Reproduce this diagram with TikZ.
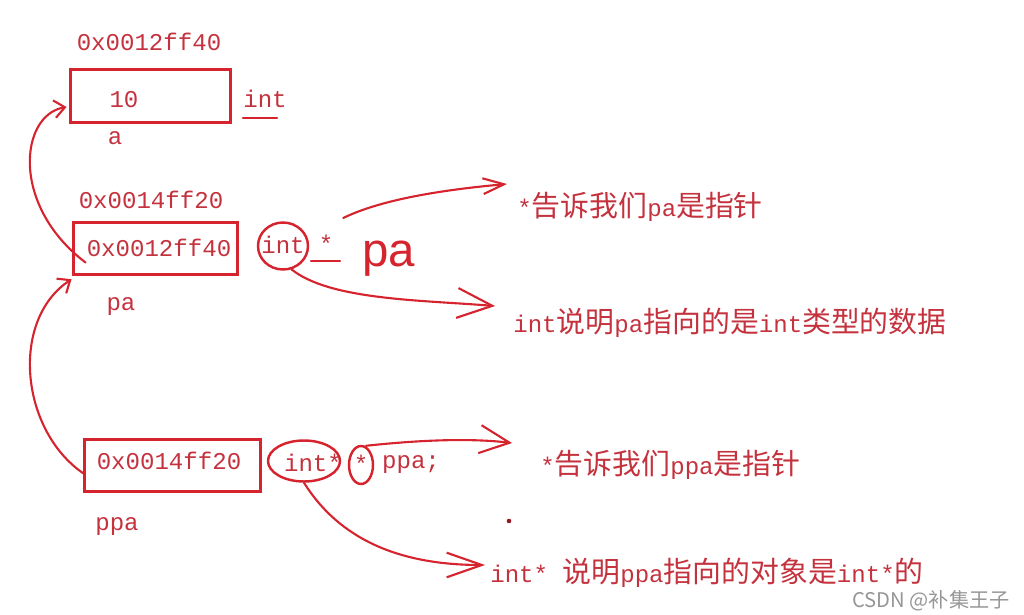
\documentclass[tikz,border=0pt]{standalone}
\usepackage{fontspec}
\usepackage{tikz}
\usetikzlibrary{calc,arrows.meta,positioning,shapes.geometric}
\setmonofont{Liberation Mono}
\newfontfamily\cjk[Scale=1.2]{Noto Sans CJK SC}
\newfontfamily\wmfont{Noto Sans CJK SC}
\newfontfamily\handfont{Liberation Sans}
\newcommand{\memfont}{\ttfamily\fontsize{13.7}{16}\selectfont}
\definecolor{inkRed}{RGB}{214,36,46}
\definecolor{textRed}{RGB}{196,50,62}
\definecolor{wmGray}{RGB}{150,150,150}
\tikzset{
  mem/.style={text=textRed, font=\memfont, inner sep=0pt},
  cell/.style={draw=inkRed, line width=1.7pt, minimum height=1.05cm, inner sep=0pt},
  pen/.style={draw=inkRed, line width=1.2pt, line cap=round},
  ring/.style={draw=inkRed, line width=1.4pt, ellipse, inner sep=0pt},
  note/.style={mem, anchor=west},
}

\begin{document}
\begin{tikzpicture}[x=0.02cm,y=-0.02cm]
\useasboundingbox (0,0) rectangle (1024,615);
% a
\node[mem] (adr_a) at (149,42) {0x0012ff40};
\node[cell, minimum width=3.22cm] (box_a) at (150.5,96) {};
\node[mem] (val_a) at (124,100) {10};
\node[mem] (type_a) at (265,99) {int};
\draw[pen] ($(type_a.south west)+(0,10)$) -- ($(type_a.south east)+(-10,10)$);
\node[mem] (name_a) at (115,138) {a};
% pa
\node[mem] (adr_pa) at (151,200) {0x0014ff20};
\node[cell, minimum width=3.3cm] (box_pa) at (155.5,248.5) {};
\node[mem] (val_pa) at (159,248) {0x0012ff40};
\node[mem] (name_pa) at (121,307) {pa};
\node[ring, minimum width=1cm, minimum height=0.94cm] (ring_int) at (283,246) {};
\node[mem] (int_pa) at (283,245) {int};
\node[mem] (star_pa) at (326,244) {*};
\draw[pen] ($(star_pa.south)+(-15,8)$) -- ($(star_pa.south)+(14,8)$);
\node[text=inkRed, font=\handfont\fontsize{27}{27}\selectfont, inner sep=0pt, anchor=base west] (hand_pa) at (362,266) {pa};
% ppa
\node[cell, minimum width=3.54cm] (box_ppa) at (172.5,465.5) {};
\node[mem] (val_ppa) at (169,461) {0x0014ff20};
\node[mem] (name_ppa) at (117,527) {ppa};
\node[ring, minimum width=1.44cm, minimum height=0.82cm] (ring_intp) at (304,461) {};
\node[mem] (int_ppa) at (313,463) {int*};
\node[ring, minimum width=0.48cm, minimum height=0.76cm] (ring_star) at (361,465) {};
\node[mem] (star_ppa) at (361,464) {*};
\node[mem] (decl_ppa) at (411,465) {ppa;};
\fill[inkRed!70!black] (509,521) circle (1.3pt);
% notes
\node[note] (note1) at (517,207) {*{\cjk 告诉我们}pa{\cjk 是指针}};
\node[note] (note2) at (513,323) {int{\cjk 说明}pa{\cjk 指向的是}int{\cjk 类型的数据}};
\node[note] (note3) at (540,465) {*{\cjk 告诉我们}ppa{\cjk 是指针}};
\node[note] (note4) at (490,573) {int* {\cjk 说明}ppa{\cjk 指向的对象是}int*{\cjk 的}};
\node[text=wmGray, font=\wmfont\fontsize{11.5}{13}\selectfont, inner sep=0pt, anchor=east] (mark) at (1010,601) {CSDN @补集王子};
% arrows
\draw[pen, -{Straight Barb[length=6pt,width=10pt]}] ($(box_pa.west)+(14,14)$) .. controls (10,205) and (20,115) .. ($(box_a.west)+(-2,11)$);
\draw[pen, -{Straight Barb[length=6pt,width=10pt]}] ($(box_ppa.west)+(1,8)$) .. controls (20,430) and (10,320) .. ($(box_pa.south west)+(0,3)$);
\draw[pen, -{Straight Barb[length=12pt,width=9pt]}] ($(ring_int.east)+(34,-28)$) .. controls (380,200) and (440,190) .. ($(note1.west)+(-10,-23)$);
\draw[pen, -{Straight Barb[length=20pt,width=17pt]}] (ring_int.-70) .. controls (330,300) and (420,300) .. ($(note2.west)+(-18,-17)$);
\draw[pen, -{Straight Barb[length=17pt,width=16pt]}] ($(ring_star.north)+(5,1)$) .. controls (420,440) and (470,438) .. ($(note3.west)+(-28,-22)$);
\draw[pen, -{Straight Barb[length=20pt,width=14pt]}] (ring_intp.south) .. controls (340,540) and (400,565) .. ($(note4.west)+(-5,-8)$);
\end{tikzpicture}
\end{document}
